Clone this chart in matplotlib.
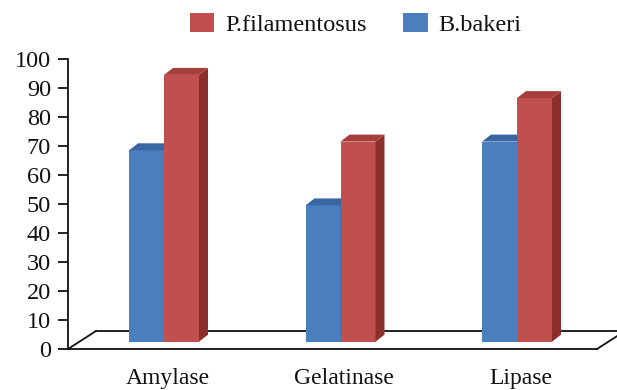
import matplotlib
matplotlib.use("Agg")
import matplotlib.pyplot as plt
import matplotlib.transforms as mtransforms
from matplotlib.patches import Polygon, Patch
from matplotlib.lines import Line2D
import numpy as np

categories = ["Amylase", "Gelatinase", "Lipase"]
series_names = ["P.filamentosus", "B.bakeri"]
b_bakeri = [66, 47, 69]
p_filamentosus = [92, 69, 84]
yticks = list(range(0, 101, 10))

plt.rcParams['font.family'] = ['Liberation Serif', 'DejaVu Serif']

W, H = 617, 390
fig = plt.figure(figsize=(W / 100, H / 100), dpi=100)
left_px, right_px, bot_px, top_px = 68, 597, 349, 59
ax = fig.add_axes([left_px / W, (H - bot_px) / H, (right_px - left_px) / W, (bot_px - top_px) / H])

x = np.arange(len(categories))
spacing_px = 176.5
xl = 0 - (164 - left_px) / spacing_px
xr = 2 + (right_px - 517) / spacing_px
ax.set_xlim(xl, xr)
ax.set_ylim(0, 100)

px_x = (right_px - left_px) / (xr - xl)
px_y = (bot_px - top_px) / 100.0
w = 35 / px_x
DX = 9 / px_x
DY = 7 / px_y
B0 = 7.3 / px_y

blue_front, blue_top = "#4A7EBE", "#3A67A3"
red_front, red_top, red_side = "#C0504D", "#A63E3B", "#8A2F2D"

# floor (front edge is the bottom spine)
off = mtransforms.ScaledTranslation(28 / 100, 18 / 100, fig.dpi_scale_trans)
tr_off = ax.transAxes + off
ax.add_line(Line2D([0, 1.2], [0, 0], transform=tr_off, color='#111111', lw=1.3, clip_on=False, zorder=1))
for xa in (0, 1):
    p0 = ax.transAxes.transform((xa, 0))
    p1 = tr_off.transform((xa, 0))
    ax.add_line(Line2D([p0[0], p1[0]], [p0[1], p1[1]], transform=None, color='#111111', lw=1.3, clip_on=False, zorder=1))


def bar3d(xc, vals, front, top, side):
    ax.bar(xc, vals, w, bottom=B0, color=front, zorder=3, linewidth=0)
    for xi, v in zip(xc, vals):
        x0, x1 = xi - w / 2, xi + w / 2
        yt = B0 + v
        ax.add_patch(Polygon([(x1, B0), (x1, yt), (x1 + DX, yt + DY), (x1 + DX, B0 + DY)],
                             closed=True, facecolor=side, edgecolor='none', zorder=3, clip_on=False))
        ax.add_patch(Polygon([(x0, yt), (x1, yt), (x1 + DX, yt + DY), (x0 + DX, yt + DY)],
                             closed=True, facecolor=top, edgecolor='none', zorder=3, clip_on=False))


bar3d(x - w / 2, b_bakeri, blue_front, blue_top, blue_top)
bar3d(x + w / 2, p_filamentosus, red_front, red_top, red_side)

for s in ('top', 'right'):
    ax.spines[s].set_visible(False)
for s in ('left', 'bottom'):
    ax.spines[s].set_linewidth(1.3)
    ax.spines[s].set_color('#111111')

ax.set_yticks(yticks)
ax.set_yticklabels([str(t) for t in yticks])
ax.tick_params(axis='y', length=7.2, width=1.3, pad=5, labelsize=17.5, color='#111111', labelcolor='#111111')
ax.set_xticks(x + 0.02)
ax.set_xticklabels(categories)
ax.tick_params(axis='x', length=0, pad=14, labelsize=17, labelcolor='#111111')

handles = [Patch(facecolor=red_front), Patch(facecolor=blue_front)]
fig.legend(handles, series_names, loc='upper left', bbox_to_anchor=(190 / W, 1 - 13 / H),
           ncol=2, frameon=False, fontsize=17.5, handlelength=1.0, handleheight=0.85,
           handletextpad=0.45, columnspacing=1.5, borderpad=0, borderaxespad=0,
           labelcolor='#111111')

fig.savefig("out.png", dpi=100)
